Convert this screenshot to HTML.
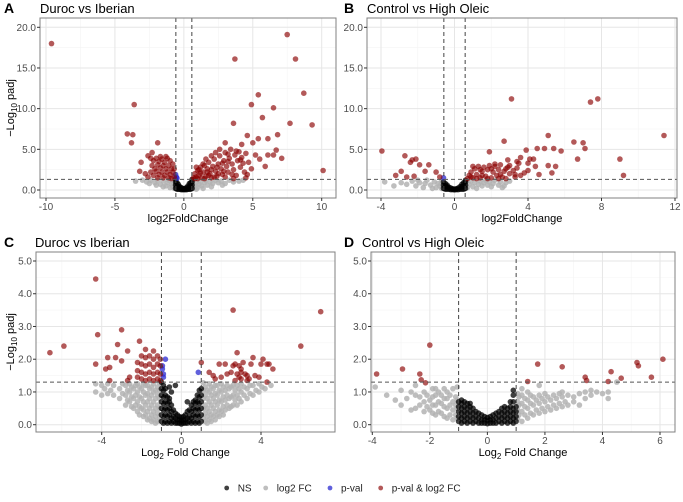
<!DOCTYPE html>
<html><head><meta charset="utf-8"><style>
body{margin:0;background:#fff;font-family:"Liberation Sans",Arial,sans-serif}
svg text{font-family:"Liberation Sans",Arial,sans-serif}
</style></head><body>
<svg id="chart" width="683" height="497" xmlns="http://www.w3.org/2000/svg"></svg>
<script>
// ---------- DATA (columns: [x, [y values]]) ----------
const aBlack=[[-0.6,[0.2,0.6,1.0,1.3]],[-0.5,[0.1,0.5,0.9]],[-0.4,[0.1,0.4,0.7]],[-0.3,[0.1,0.4]],[-0.2,[0.05,0.3]],[-0.1,[0.05,0.2]],[0,[0.05,0.15]],[0.1,[0.05,0.2]],[0.2,[0.05,0.3]],[0.3,[0.1,0.5]],[0.4,[0.1,0.4,0.8]],[0.5,[0.1,0.5,0.9]],[0.6,[0.2,0.6,1.0,1.3]]];
const aBlue=[[-0.6,[1.9]],[-0.55,[1.6]],[-0.5,[1.45]]];
const aGrey=[[-3.5,[1.1]],[-3.0,[1.2]],[-2.7,[1.0]],[-2.5,[0.8]],[-2.4,[1.2]],[-2.1,[0.9]],[-2.0,[0.6]],[-1.9,[1.2]],[-1.7,[0.7]],[-1.5,[1.1,0.4]],[-1.3,[0.5]],[-1.2,[0.9]],[-1.1,[1.2]],[-1.0,[0.3]],[-0.9,[0.7]],[-0.8,[1.0,0.4]],[-0.7,[0.2]],[0.7,[0.2]],[0.8,[0.5]],[0.9,[0.9,0.1]],[1.0,[0.3]],[1.1,[0.7]],[1.2,[1.1]],[1.3,[0.5]],[1.4,[0.2]],[1.5,[0.9]],[1.6,[1.2]],[1.7,[0.6]],[1.9,[1.0]],[2.0,[0.4]],[2.1,[0.8]],[2.3,[1.2]],[2.5,[0.9]],[2.7,[1.1]],[2.8,[0.6]],[3.0,[0.8]],[3.3,[1.2]],[3.6,[1.0]],[4.0,[1.1]],[4.3,[1.2]]];
const aRed=[[-9.6,[18]],[-3.6,[10.5]],[-4.1,[6.9]],[-3.7,[6.8]],[-3.8,[5.8]],[-1.9,[5.8]],[-3.1,[3.4]],[-3.2,[2.3]],[-2.3,[4.6]],[-2.6,[4.2]],[-2.8,[2.0]],[-2.6,[1.6]],
[-2.4,[3.9,2.2]],[-2.3,[3.0]],[-2.2,[3.6,1.8]],[-2.1,[2.6]],[-2.0,[3.9,2.3]],[-1.9,[3.1,1.5]],[-1.8,[3.5,1.9]],[-1.7,[2.7,4.1]],[-1.6,[3.8,2.2]],[-1.5,[3.0,1.5]],[-1.4,[3.4,1.8]],[-1.3,[2.6,4.1]],[-1.2,[3.9,2.2]],[-1.1,[3.0,1.5]],[-1.0,[3.6,1.9]],[-0.9,[2.6,1.4]],[-0.8,[3.2,2.2]],[-0.7,[1.6,2.6]],
[0.7,[1.5]],[0.8,[2.0,1.4]],[0.9,[1.6,2.8]],[1.0,[2.4,1.4]],[1.1,[1.8,2.5]],[1.2,[2.8,2.1]],[1.3,[1.5]],[1.4,[2.2,3.2]],[1.5,[3.0,1.4]],[1.6,[1.7,3.8]],[1.7,[2.6,2.2]],[1.8,[3.4,1.8]],[1.9,[2.0]],[2.0,[1.5,2.5,4.2]],[2.1,[2.9]],[2.2,[3.8,1.6]],[2.3,[2.3,4.6]],[2.4,[1.7,2.8]],[2.5,[3.2,2.0]],[2.6,[4.2,5.0]],[2.7,[2.6]],[2.8,[1.9,3.3]],[2.9,[3.6,2.3]],[3.0,[4.6,1.6,5.8]],[3.1,[2.9]],[3.2,[2.2,3.5,4.4]],[3.3,[3.9]],[3.4,[5.0]],[3.5,[3.2,1.9]],[3.6,[2.5,1.4,8.2]],[3.7,[4.3,16.1]],[3.8,[1.8,4.8]],[3.9,[3.6]],[4.0,[4.7]],[4.1,[2.8,3.7]],[4.2,[4.0,5.6]],[4.3,[3.3]],[4.4,[2.2]],[4.5,[4.5,1.5]],[4.6,[1.9,6.7]],[4.7,[3.4]],[4.9,[2.6,10.5]],[5.0,[5.8]],[5.2,[4.3]],[5.4,[11.7,6.3]],[5.5,[3.8]],[5.7,[8.9]],[5.9,[2.9]],[6.1,[6.3,4.3]],[6.5,[10.1,4.3]],[6.7,[4.9]],[6.8,[6.8]],[7.1,[3.9]],[7.5,[19.1]],[7.7,[8.2]],[8.1,[16.1]],[8.7,[11.9]],[9.3,[8.0]],[10.1,[2.4]]];

const bBlack=[[-0.6,[0.2,0.6,1.0]],[-0.5,[0.1,0.5,0.8]],[-0.4,[0.1,0.4,0.6]],[-0.3,[0.1,0.35]],[-0.2,[0.05,0.25]],[-0.1,[0.05,0.15]],[0,[0.03,0.12]],[0.1,[0.05,0.15]],[0.2,[0.05,0.25]],[0.3,[0.1,0.4]],[0.4,[0.1,0.4,0.7]],[0.5,[0.1,0.5,0.9]],[0.6,[0.2,0.6,1.0,1.2]]];
const bBlue=[[-0.6,[1.5]]];
const bGrey=[[-3.8,[1.0]],[-3.3,[0.5]],[-2.9,[0.9]],[-2.6,[0.7]],[-2.3,[1.1]],[-2.1,[0.5]],[-2.0,[1.2]],[-1.9,[0.9]],[-1.7,[0.3]],[-1.6,[0.8]],[-1.5,[1.2]],[-1.3,[0.6]],[-1.2,[0.2]],[-1.1,[1.0]],[-1.0,[0.3]],[-0.9,[0.8]],[-0.8,[0.5]],[-0.7,[1.1,0.2]],[0.7,[0.3]],[0.8,[0.7]],[0.9,[1.1]],[1.0,[0.4]],[1.1,[0.9]],[1.2,[0.2]],[1.3,[0.7]],[1.4,[1.1]],[1.5,[0.5]],[1.6,[0.9]],[1.7,[1.2]],[1.8,[0.6]],[1.9,[1.0]],[2.0,[0.4]],[2.1,[0.8]],[2.2,[1.2]],[2.4,[0.6]],[2.5,[1.0]],[2.6,[0.3]],[2.7,[0.5]],[2.8,[0.9]],[3.0,[1.1]]];
const bRed=[[-3.95,[4.8]],[-3.2,[1.8]],[-2.9,[2.3]],[-2.7,[4.2]],[-2.6,[1.6]],[-2.4,[3.4]],[-2.3,[3.7]],[-2.2,[1.7]],[-2.1,[3.8]],[-1.9,[3.1]],[-1.6,[2.3]],[-1.4,[3.1]],[-1.0,[2.2]],[-0.8,[1.6]],
[0.7,[1.4]],[0.8,[1.8]],[0.9,[2.2,1.6]],[1.0,[1.5,2.9]],[1.1,[2.6]],[1.2,[1.9,1.4]],[1.3,[2.9]],[1.4,[1.5,2.5]],[1.5,[2.3,1.8]],[1.6,[2.8]],[1.7,[1.7]],[1.8,[2.5,1.4]],[1.9,[3.0,4.7]],[2.0,[1.5,2.6]],[2.1,[2.2]],[2.2,[2.9,3.2]],[2.3,[1.8]],[2.4,[2.5,1.4]],[2.5,[3.1,1.9]],[2.6,[1.6]],[2.7,[2.3,6.0]],[2.8,[1.4,2.6]],[2.9,[2.8,3.7]],[3.0,[2.0,3.0]],[3.1,[11.2]],[3.2,[2.4]],[3.3,[1.6,1.9]],[3.4,[2.7,3.5]],[3.5,[3.3]],[3.6,[4.0,1.8]],[3.8,[2.1]],[3.9,[4.9]],[4.0,[2.4,3.3]],[4.1,[3.8]],[4.3,[3.8]],[4.4,[2.9]],[4.5,[5.1]],[4.6,[1.9]],[4.9,[5.1]],[5.1,[6.7,3.0]],[5.3,[2.1]],[5.4,[5.1]],[5.5,[2.9]],[5.8,[4.8]],[6.5,[5.9]],[6.7,[3.8]],[7.0,[5.8]],[7.1,[5.1]],[7.4,[10.8]],[7.8,[11.2]],[9.0,[3.8]],[9.2,[1.8]],[11.4,[6.7]]];

const cBlack=[[-1.0,[0.1,0.3,0.5,0.7,0.9,1.1,1.3]],[-0.9,[0.05,0.25,0.45,0.65,0.85,1.05,1.2]],[-0.8,[0.1,0.3,0.5,0.7,0.9,1.1]],[-0.7,[0.05,0.25,0.45,0.65,0.85]],[-0.6,[0.1,0.3,0.5,0.7,0.8,1.15]],[-0.5,[0.05,0.2,0.4,0.6,1.0]],[-0.4,[0.1,0.25,0.45]],[-0.3,[0.05,0.2,0.35,1.2]],[-0.2,[0.05,0.15,0.3]],[-0.1,[0.05,0.15,0.25]],[0,[0.02,0.12,0.22]],[0.1,[0.05,0.15,0.25]],[0.2,[0.05,0.15,0.3]],[0.3,[0.05,0.2,0.4,0.7]],[0.4,[0.1,0.25,0.45]],[0.5,[0.05,0.2,0.4,0.6]],[0.6,[0.1,0.3,0.5,0.7]],[0.7,[0.05,0.25,0.45,0.65,0.75]],[0.8,[0.1,0.3,0.5,0.7,0.9]],[0.9,[0.05,0.25,0.45,0.65,0.85,1.05]],[1.0,[0.1,0.3,0.5,0.7,0.9,1.1]]];
const cBlue=[[-0.8,[2.0]],[-0.95,[1.8,1.7]],[-0.9,[1.55,1.45]],[0.85,[1.6]]];
const cGrey=[[-4.3,[1.0,1.25]],[-4.0,[0.9,1.2]],[-3.85,[1.1]],[-3.7,[0.95,1.25]],[-3.55,[1.05]],[-3.4,[0.9,1.2]],[-3.1,[0.8,1.1]],[-2.95,[0.95,1.25]],[-2.8,[0.6,0.9,1.2]],[-2.7,[0.75,1.05]],[-2.6,[0.7,1.0,1.25]],[-2.5,[0.55,0.85,1.15]],[-2.4,[0.5,0.8,1.1]],[-2.3,[0.6,0.9,1.2]],[-2.2,[0.4,0.7,1.0,1.25]],[-2.1,[0.3,0.55,0.85,1.15]],[-2.0,[0.5,0.8,1.1]],[-1.9,[0.25,0.45,0.7,1.0,1.25]],[-1.8,[0.3,0.6,0.9,1.2]],[-1.7,[0.15,0.4,0.7,0.95,1.2]],[-1.6,[0.2,0.5,0.8,1.1]],[-1.5,[0.1,0.3,0.6,0.9,1.15]],[-1.4,[0.15,0.4,0.7,1.0,1.25]],[-1.3,[0.05,0.25,0.5,0.8,1.05]],[-1.2,[0.1,0.35,0.6,0.9,1.15]],[-1.1,[0.2,0.5,0.8,1.05,1.28]],
[1.1,[0.2,0.5,0.8,1.05,1.28]],[1.2,[0.1,0.35,0.6,0.9,1.15]],[1.3,[0.05,0.25,0.5,0.8,1.05]],[1.4,[0.15,0.4,0.7,1.0,1.25]],[1.5,[0.1,0.3,0.6,0.9,1.15]],[1.6,[0.25,0.5,0.8,1.1]],[1.7,[0.15,0.4,0.7,0.95,1.2]],[1.8,[0.3,0.6,0.9,1.2]],[1.9,[0.25,0.45,0.75,1.05]],[2.0,[0.4,0.7,1.0,1.25]],[2.1,[0.3,0.55,0.85,1.15]],[2.2,[0.45,0.75,1.05]],[2.3,[0.6,0.9,1.2]],[2.4,[0.5,0.8,1.1]],[2.5,[0.55,0.85,1.15]],[2.6,[0.6,0.9,1.2]],[2.7,[0.75,1.05]],[2.8,[0.6,0.9,1.2]],[2.9,[0.8,1.1]],[3.0,[0.7,1.0,1.25]],[3.15,[0.9,1.15]],[3.3,[0.8,1.1]],[3.45,[0.95,1.2]],[3.6,[0.9,1.2]],[3.75,[1.05]],[3.9,[1.0,1.25]],[4.05,[1.15]],[4.2,[1.1]],[4.5,[1.2]]];
const cRed=[[-6.6,[2.2]],[-5.9,[2.4]],[-4.3,[4.45,1.85]],[-4.2,[2.75]],[-3.8,[1.7]],[-3.7,[2.05]],[-3.6,[1.75,1.35]],[-3.3,[2.05]],[-3.2,[2.45]],[-3.0,[2.9,1.95]],[-2.7,[2.25,1.35]],[-2.6,[1.45]],[-2.1,[2.55]],
[-2.2,[1.45,1.65,1.9]],[-2.0,[1.4,1.6,1.85,2.1]],[-1.8,[1.35,1.55,1.8,2.05,2.3]],[-1.6,[1.4,1.6,1.85,2.1]],[-1.4,[1.35,1.55,1.75,2.0,2.25]],[-1.2,[1.4,1.6,1.85,2.1]],[-1.05,[1.35,1.55,1.8,2.0]],
[1.0,[1.9]],[1.4,[1.6]],[1.6,[1.5]],[1.7,[1.4]],[1.9,[1.85]],[2.0,[1.45]],[2.2,[1.85]],[2.3,[1.55]],[2.5,[1.6]],[2.6,[3.5,1.8]],[2.7,[1.85,1.35]],[2.8,[2.2,1.55]],[2.9,[1.8,1.45]],[3.0,[1.6,1.4,1.7]],[3.1,[1.9]],[3.2,[1.55]],[3.3,[1.5,1.35]],[3.4,[1.4]],[3.5,[1.85]],[3.6,[2.05]],[3.7,[1.5]],[3.9,[1.45]],[4.0,[1.85]],[4.1,[2.0]],[4.3,[1.85,1.3]],[4.4,[1.85]],[4.6,[1.7]],[6.0,[2.4]],[7.0,[3.45]]];

const dBlack=[[-1.0,[0.1,0.25,0.4,0.55,0.7]],[-0.9,[0.05,0.2,0.35,0.5,0.65,0.75]],[-0.8,[0.1,0.25,0.4,0.55,0.7]],[-0.7,[0.05,0.2,0.35,0.5,0.65]],[-0.6,[0.1,0.25,0.4,0.55,0.65]],[-0.5,[0.05,0.2,0.35,0.5]],[-0.4,[0.1,0.25,0.4]],[-0.3,[0.05,0.2,0.35]],[-0.2,[0.05,0.15,0.3]],[-0.1,[0.05,0.15,0.25]],[0,[0.03,0.13,0.22]],[0.1,[0.05,0.15,0.25]],[0.2,[0.05,0.15,0.3]],[0.3,[0.05,0.2,0.35]],[0.4,[0.1,0.25,0.4]],[0.5,[0.05,0.2,0.35,0.5]],[0.6,[0.1,0.25,0.4,0.55]],[0.7,[0.05,0.2,0.35,0.5]],[0.8,[0.1,0.25,0.4,0.55,0.7]],[0.9,[0.05,0.2,0.35,0.5,0.7,0.9,1.05]],[1.0,[0.1,0.25,0.4,0.55]]];
const dBlue=[];
const dGrey=[[-3.9,[1.15]],[-3.5,[0.9]],[-3.2,[0.75]],[-3.0,[0.6,1.05]],[-2.8,[0.8]],[-2.65,[0.45,1.0]],[-2.5,[0.5,0.9,1.2]],[-2.35,[0.6,0.85]],[-2.2,[0.4,0.7,1.0]],[-2.1,[0.55,0.9]],[-2.0,[0.45,0.75]],[-1.9,[0.35,0.6,0.85,1.1]],[-1.8,[0.3,0.6,0.9,1.1]],[-1.7,[0.4,0.7,1.0]],[-1.6,[0.35,0.65,0.9]],[-1.5,[0.25,0.55,0.8,1.1]],[-1.4,[0.2,0.5,0.8,1.0]],[-1.3,[0.3,0.6,0.9]],[-1.2,[0.15,0.45,0.7,1.1]],[-1.1,[0.3,0.6,0.85]],[-1.05,[0.2,0.5,0.75,1.15]],
[1.05,[0.2,0.45,0.7,0.95]],[1.1,[0.3,0.6,0.85]],[1.2,[0.1,0.4,0.65,0.9,1.1]],[1.3,[0.3,0.55,0.8]],[1.4,[0.2,0.5,0.75,1.0]],[1.5,[0.35,0.65,0.9]],[1.6,[0.3,0.6,0.85]],[1.7,[0.45,0.75]],[1.8,[0.35,0.65,0.9,1.2]],[1.9,[0.5,0.8]],[2.0,[0.4,0.7,0.95]],[2.1,[0.55,0.85]],[2.2,[0.45,0.75]],[2.3,[0.6,0.9]],[2.4,[0.5,0.8]],[2.5,[0.65,0.95]],[2.6,[0.55,0.85,1.0]],[2.7,[0.7]],[2.8,[0.6,0.9]],[3.0,[0.7,0.85]],[3.2,[0.6,0.95]],[3.4,[0.8,1.0]],[3.6,[0.9,1.05]],[3.8,[1.0]],[4.0,[0.95]],[4.2,[0.8,1.0]],[4.5,[1.3]]];
const dRed=[[-3.85,[1.55]],[-2.95,[1.7]],[-2.35,[1.55]],[-2.3,[1.37]],[-2.15,[1.28]],[-2.0,[2.43]],[1.4,[1.32]],[1.75,[1.85]],[2.6,[1.77]],[3.4,[1.45]],[3.45,[1.35]],[4.2,[1.32]],[4.3,[1.62]],[4.65,[1.42]],[5.2,[1.9]],[5.25,[1.8]],[5.7,[1.45]],[6.1,[2.0]]];

const yTicksTop=[0,5,10,15,20];
const yTicksBot=[0,1,2,3,4,5];
const xTicksA=[-10,-5,0,5,10];
const xTicksB=[-4,0,4,8,12];
const xTicksC=[-4,0,4];
const xTicksD=[-4,-2,0,2,4,6];
const legendLabels=["NS","log2 FC","p-val","p-val & log2 FC"];

// ---------- drawing ----------
const NS="http://www.w3.org/2000/svg";
const svg=document.getElementById('chart');
function mk(tag,attrs,parent){const e=document.createElementNS(NS,tag);for(const k in attrs)e.setAttribute(k,attrs[k]);(parent||svg).appendChild(e);return e;}
function lin(d0,d1,r0,r1){return v=>r0+(v-d0)*(r1-r0)/(d1-d0);}

const panels=[
 {id:'a',tag:'A',title:'Duroc vs Iberian',rect:[40,18,336,198],x:lin(-10,10,46,321.7),y:lin(0,20,190,27.3),xt:xTicksA,xm:[-7.5,-2.5,2.5,7.5],yt:yTicksTop,ym:[2.5,7.5,12.5,17.5],fc:0.58,yTitle:true,xl:'log2FoldChange',sub:false,data:[aGrey,aBlack,aBlue,aRed]},
 {id:'b',tag:'B',title:'Control vs High Oleic',rect:[367,18,677,198],x:lin(-4,12,381,675),y:lin(0,20,190,27.3),xt:xTicksB,xm:[-2,2,6,10],yt:yTicksTop,ym:[2.5,7.5,12.5,17.5],fc:0.58,yTitle:false,xl:'log2FoldChange',sub:false,data:[bGrey,bBlack,bBlue,bRed]},
 {id:'c',tag:'C',title:'Duroc vs Iberian',rect:[36,252,335,432],x:lin(-4,4,101.7,261),y:lin(0,5,424.7,261),xt:xTicksC,xm:[-6,-2,2,6],yt:yTicksBot,ym:[0.5,1.5,2.5,3.5,4.5],fc:1,yTitle:true,xl:'Log2',sub:true,data:[cGrey,cBlack,cBlue,cRed]},
 {id:'d',tag:'D',title:'Control vs High Oleic',rect:[371,252,675,432],x:lin(-4,6,372.3,660),y:lin(0,5,424.7,261),xt:xTicksD,xm:[-3,-1,1,3,5],yt:yTicksBot,ym:[0.5,1.5,2.5,3.5,4.5],fc:1,yTitle:false,xl:'Log2',sub:true,data:[dGrey,dBlack,dBlue,dRed]}
];
const colors=['#b3b3b3','#000000','#2b2bd0','#8b0000'];
const ops=[0.85,0.75,0.75,0.65];
const catNames=['log2fc','ns','pval','pval-log2fc'];

panels.forEach(p=>{
 const [x0,y0,x1,y1]=p.rect;
 const g=mk('g',{});
 
 
 const cp=mk('clipPath',{id:'clip'+p.id},g);mk('rect',{x:x0,y:y0,width:x1-x0,height:y1-y0},cp);
 p.xm.forEach(v=>{const X=p.x(v);mk('line',{x1:X,x2:X,y1:y0,y2:y1,stroke:'#f4f4f4','stroke-width':0.6},g);});
 p.ym.forEach(v=>{const Y=p.y(v);mk('line',{x1:x0,x2:x1,y1:Y,y2:Y,stroke:'#f4f4f4','stroke-width':0.6},g);});
 p.xt.forEach(v=>{const X=p.x(v);const l=mk('line',{x1:X,x2:X,y1:y0,y2:y1,stroke:'#e6e6e6','stroke-width':1},g);
   });
 p.yt.forEach(v=>{const Y=p.y(v);const l=mk('line',{x1:x0,x2:x1,y1:Y,y2:Y,stroke:'#e6e6e6','stroke-width':1},g);
   });
 const pg=mk('g',{'clip-path':'url(#clip'+p.id+')'},g);
 p.data.forEach((series,ci)=>{
  series.forEach(col=>{col[1].forEach(yv=>{
   const c=mk('circle',{cx:p.x(col[0]).toFixed(1),cy:p.y(yv).toFixed(1),r:2.8,fill:colors[ci],'fill-opacity':ops[ci]},pg);
   
   
  });});
 });
 [-p.fc,p.fc].forEach(v=>{const X=p.x(v);const l=mk('line',{x1:X,x2:X,y1:y0,y2:y1,stroke:'#444','stroke-width':1,'stroke-dasharray':'4,3'},g);
   });
 {const Y=p.y(1.3);const l=mk('line',{x1:x0,x2:x1,y1:Y,y2:Y,stroke:'#555','stroke-width':1,'stroke-dasharray':'4,3'},g);
   }
 const b=mk('rect',{x:x0,y:y0,width:x1-x0,height:y1-y0,fill:'none',stroke:'#808080','stroke-width':1},g);
 
 p.xt.forEach(v=>{const X=p.x(v);mk('line',{x1:X,x2:X,y1:y1,y2:y1+3,stroke:'#333'},g);
  const t=mk('text',{x:X,y:y1+12,'font-size':10,fill:'#4d4d4d','text-anchor':'middle'},g);t.textContent=v;
  });
 p.yt.forEach(v=>{const Y=p.y(v);mk('line',{x1:x0-3,x2:x0,y1:Y,y2:Y,stroke:'#333'},g);
  const t=mk('text',{x:x0-4,y:Y+3.5,'font-size':10,fill:'#4d4d4d','text-anchor':'end'},g);t.textContent=v.toFixed(1);
  });
 const tg=mk('text',{x:p.id==='a'||p.id==='c'?4:344,y:y0-5,'font-size':14,'font-weight':'bold',fill:'#000'},g);tg.textContent=p.tag;
 
 const tt=mk('text',{x:p.id==='a'?40:p.id==='b'?367:p.id==='c'?35:362,y:y0-5,'font-size':13,fill:'#000'},g);tt.textContent=p.title;
 
 const cx=(x0+x1)/2;
 const xl=mk('text',{x:cx,y:y1+24,'font-size':11,fill:'#000','text-anchor':'middle'},g);
 if(p.sub){xl.innerHTML='Log<tspan font-size="8" dy="3">2</tspan><tspan dy="-3"> Fold Change</tspan>';}else xl.textContent=p.xl;
 
 if(p.yTitle){const cy=(y0+y1)/2;const yl=mk('text',{x:0,y:0,'font-size':11,fill:'#000','text-anchor':'middle',transform:`translate(14,${cy}) rotate(-90)`},g);
  yl.innerHTML='−Log<tspan font-size="8" dy="3">10</tspan><tspan dy="-3"> padj</tspan>';
  }
});
const lg=mk('g',{});


const legX=[226.7,265.7,330,380.7];
const legC=[1,0,2,3];
legendLabels.forEach((lab,i)=>{
 const ci=legC[i];
 const e=mk('g',{},lg);
 
 
 mk('circle',{cx:legX[i],cy:488,r:2.4,fill:colors[ci],'fill-opacity':ops[ci]},e);
 const t=mk('text',{x:legX[i]+11,y:491.5,'font-size':10,fill:'#222'},e);t.textContent=lab;
});
</script>
</body></html>
